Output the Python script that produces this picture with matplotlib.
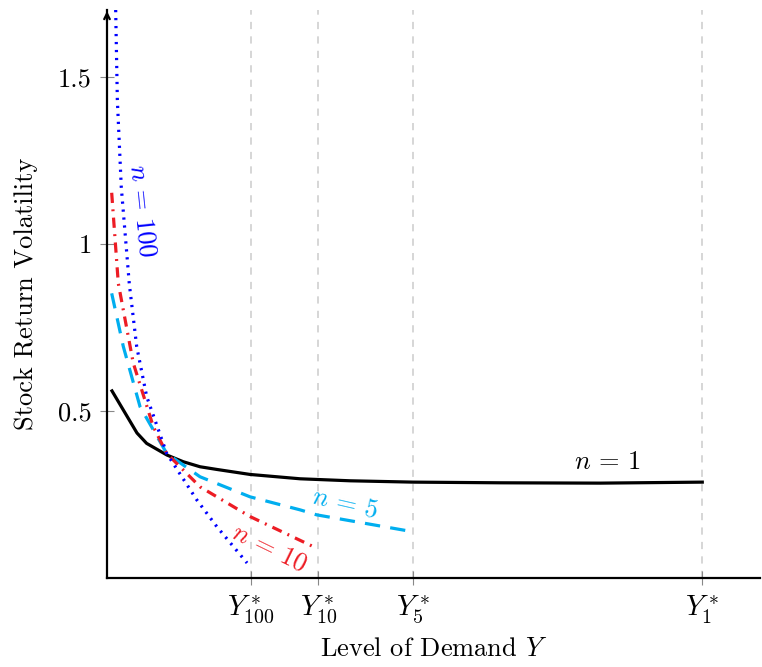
import matplotlib
matplotlib.use("Agg")
import matplotlib.pyplot as plt
import numpy as np

plt.rcParams['font.family'] = 'serif'
plt.rcParams['font.serif'] = ['cmr10']
plt.rcParams['mathtext.fontset'] = 'cm'
plt.rcParams['axes.formatter.use_mathtext'] = True

# --- data ---
y_star = [2.42, 3.55, 5.14, 10.0]
y_star_labels = [r'$Y^*_{100}$', r'$Y^*_{10}$', r'$Y^*_{5}$', r'$Y^*_{1}$']

x_n1 = [0.084, 0.504, 0.666, 1.008, 1.282, 1.563, 1.844, 2.403, 3.244, 4.084,
        5.143, 6.605, 8.286, 10.0]
v_n1 = [0.56, 0.434, 0.403, 0.368, 0.348, 0.333, 0.325, 0.310, 0.297, 0.291,
        0.287, 0.285, 0.284, 0.287]

x_n5 = [0.079, 0.274, 0.555, 1.003, 1.563, 2.403, 3.244, 3.524, 5.092]
v_n5 = [0.852, 0.693, 0.513, 0.373, 0.303, 0.243, 0.204, 0.189, 0.140]

x_n10 = [0.079, 0.19, 0.442, 0.778, 1.003, 1.563, 2.403, 3.513]
v_n10 = [1.153, 0.882, 0.643, 0.453, 0.373, 0.273, 0.184, 0.090]

x_n100 = [0.146, 0.174, 0.24, 0.375, 0.499, 0.667, 1.003, 1.508, 1.844, 2.353]
v_n100 = [1.70, 1.431, 1.17, 0.88, 0.693, 0.543, 0.373, 0.234, 0.154, 0.045]

BLUE = '#0000ff'
RED = '#ed1c24'
CYAN = '#00aeef'

fig = plt.figure(figsize=(7.62, 6.67), dpi=100)
ax = fig.add_axes([0.1404, 0.1334, 0.857, 0.8516])
ax.set_xlim(0, 10.97)
ax.set_ylim(0, 1.70)

# guide lines at the thresholds
for xs in y_star:
    ax.axvline(xs, color='#d3d3d3', lw=1.3, ls=(0, (4, 4)), zorder=1)

ax.plot(x_n1, v_n1, color='black', lw=2.3, zorder=3)
ax.plot(x_n5, v_n5, color=CYAN, lw=2.3, ls=(0, (4.8, 3.2)), zorder=3)
ax.plot(x_n10, v_n10, color=RED, lw=2.3, ls=(0, (3.2, 2, 0.6, 2)), zorder=3)
ax.plot(x_n100, v_n100, color=BLUE, lw=2.3, ls=(0, (0.7, 1.8)), zorder=3)

# curve labels
ax.text(0.6, 1.10, r'$n\,=\,100$', color=BLUE, fontsize=19, rotation=-84,
        ha='center', va='center')
ax.text(2.72, 0.09, r'$n\,=\,10$', color=RED, fontsize=19, rotation=-26,
        ha='center', va='center')
ax.text(4.0, 0.222, r'$n\,=\,5$', color=CYAN, fontsize=19, rotation=-13,
        ha='center', va='center')
ax.text(8.4, 0.347, r'$n\,=\,1$', color='black', fontsize=19,
        ha='center', va='center')

# axes styling
for side in ['top', 'right']:
    ax.spines[side].set_visible(False)
ax.spines['left'].set_linewidth(1.6)
ax.spines['bottom'].set_linewidth(1.6)
ax.annotate('', xy=(0, 1.705), xytext=(0, 1.66), xycoords='data',
            arrowprops=dict(arrowstyle='->', lw=1.6, color='black'),
            annotation_clip=False)

ax.set_yticks([0.5, 1.0, 1.5])
ax.set_yticklabels(['0.5', '1', '1.5'])
ax.set_xticks(y_star)
ax.set_xticklabels(y_star_labels)
ax.tick_params(direction='inout', length=10, width=0.8, color='#888888',
               labelsize=19, pad=6)
ax.tick_params(axis='x', labelsize=20.5, pad=6)

ax.set_xlabel(r'Level of Demand $Y$', fontsize=19, labelpad=8)
ax.set_ylabel('Stock Return Volatility', fontsize=19, labelpad=14)

fig.savefig('out.png', dpi=100)
